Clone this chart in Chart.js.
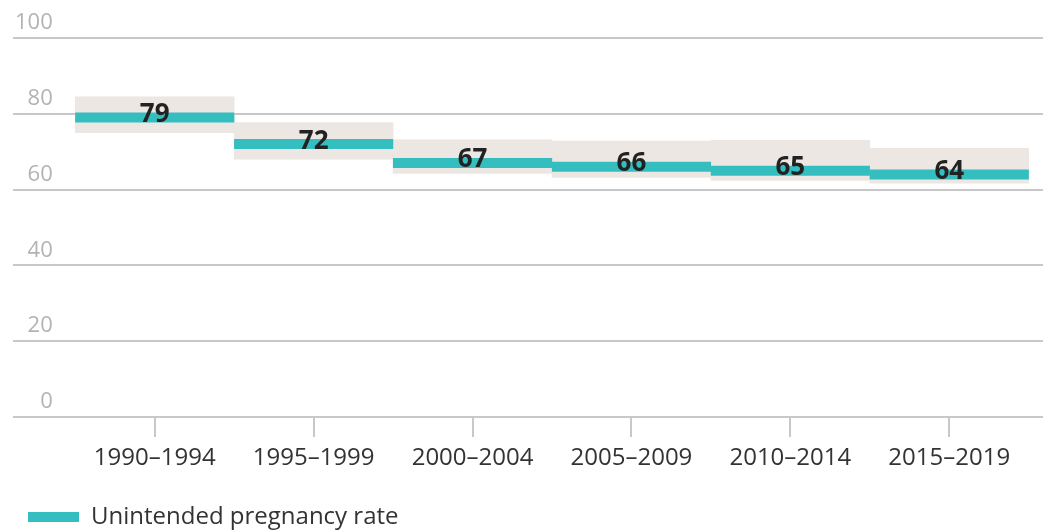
<!DOCTYPE html>
<html>
<head>
<meta charset="utf-8">
<script src="https://cdn.jsdelivr.net/npm/chart.js@4"></script>
<style>
  html, body { margin: 0; padding: 0; background: #fff; }
  #wrap { width: 1043px; height: 532px; position: relative; }
</style>
</head>
<body>
<div id="wrap"><canvas id="rateChart"></canvas></div>
<script>
const periods = ['1990–1994', '1995–1999', '2000–2004', '2005–2009', '2010–2014', '2015–2019'];
const rates = [79, 72, 67, 66, 65, 64];
const rangeLow = [75.0, 68.0, 64.3, 63.2, 62.4, 61.7];
const rangeHigh = [84.5, 77.7, 73.1, 72.8, 73.0, 70.9];
const yTicks = [0, 20, 40, 60, 80, 100];

const teal = '#34bec0';
const band = '#ece7e3';
const gridGray = '#c8c8c8';

// numbers sitting on top of each teal step
const rateLabels = {
    id: 'rateLabels',
    afterDatasetsDraw(chart) {
        const meta = chart.getDatasetMeta(0);
        const ctx = chart.ctx;
        ctx.save();
        ctx.font = 'bold 26px "Open Sans"';
        ctx.fillStyle = '#222222';
        ctx.textAlign = 'center';
        ctx.textBaseline = 'middle';
        meta.data.forEach((pt, i) => {
            ctx.fillText(String(rates[i]), pt.x, pt.y - 3);
        });
        ctx.restore();
    }
};

const ctx = document.getElementById('rateChart').getContext('2d');

new Chart(ctx, {
    type: 'bar',
    data: {
        datasets: [
            {
                type: 'line',
                label: 'Unintended pregnancy rate',
                data: rates.map((v, i) => ({ x: i, y: v })),
                showLine: false,
                pointStyle: 'line',
                pointRadius: 79.6,
                pointHoverRadius: 79.6,
                pointBorderWidth: 10,
                pointHoverBorderWidth: 10,
                pointBorderColor: teal,
                backgroundColor: teal,
                borderColor: teal,
                borderWidth: 0,
                order: 0,
            },
            {
                type: 'bar',
                label: 'range',
                data: periods.map((p, i) => ({ x: i, y: [rangeLow[i], rangeHigh[i]] })),
                backgroundColor: band,
                borderWidth: 0,
                barPercentage: 1,
                categoryPercentage: 1,
                order: 1,
            },
        ],
    },
    options: {
        responsive: true,
        maintainAspectRatio: false,
        animation: false,
        layout: {
            autoPadding: false,
            padding: { left: 9, right: 0, top: 38, bottom: -7 }
        },
        plugins: {
            legend: {
                position: 'bottom',
                align: 'start',
                labels: {
                    filter: item => item.datasetIndex === 0,
                    boxWidth: 51,
                    boxHeight: 10,
                    padding: 19,
                    color: '#333333',
                    font: { family: '"Open Sans"', size: 24 }
                }
            },
            tooltip: { enabled: false }
        },
        scales: {
            x: {
                type: 'linear',
                offset: false,
                min: -0.892,
                max: 5.59,
                afterBuildTicks: axis => {
                    axis.ticks = periods.map((p, i) => ({ value: i }));
                },
                afterFit: axis => {
                    axis.height = 69;
                },
                border: { display: false },
                grid: {
                    offset: false,
                    drawOnChartArea: false,
                    drawTicks: true,
                    tickLength: 20,
                    color: gridGray,
                    lineWidth: 2,
                },
                ticks: {
                    callback: value => periods[value],
                    autoSkip: false,
                    maxRotation: 0,
                    padding: 7,
                    color: '#333333',
                    font: { family: '"Open Sans"', size: 24 }
                }
            },
            y: {
                min: 0,
                max: 100,
                afterBuildTicks: axis => {
                    axis.ticks = yTicks.map(v => ({ value: v }));
                },
                border: { display: false },
                grid: {
                    drawTicks: false,
                    color: gridGray,
                    lineWidth: 2,
                },
                ticks: {
                    mirror: true,
                    crossAlign: 'far',
                    padding: 2,
                    labelOffset: -15,
                    color: '#b3b3b3',
                    font: { family: '"Open Sans"', size: 22 }
                }
            }
        }
    },
    plugins: [rateLabels]
});
</script>
</body>
</html>
